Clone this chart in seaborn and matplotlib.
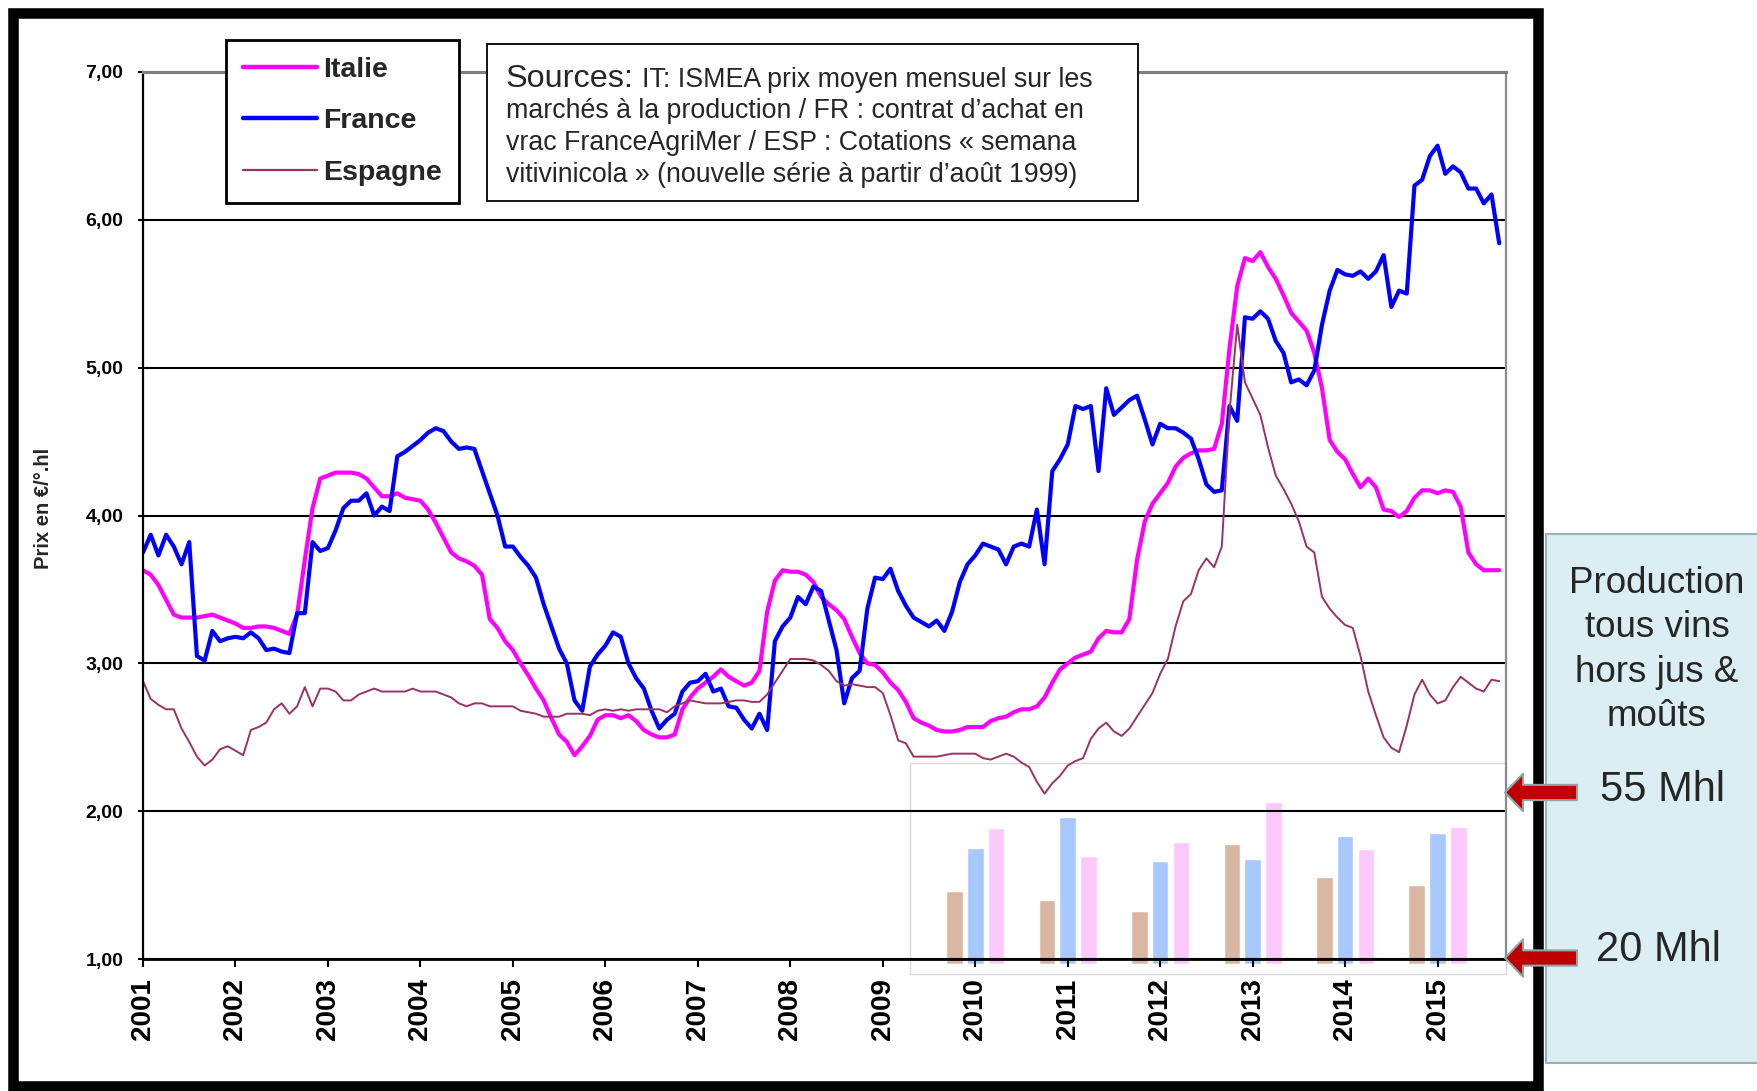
import numpy as np
import pandas as pd
import seaborn as sns
import matplotlib.pyplot as plt
from matplotlib.lines import Line2D
from matplotlib.patches import Rectangle, FancyArrowPatch

# prix mensuels en euros par degre hecto, janvier 2001 -> septembre 2015
italie = [3.63, 3.60, 3.53, 3.43, 3.33, 3.31, 3.31, 3.31, 3.32, 3.33, 3.31, 3.29,
          3.27, 3.24, 3.24, 3.25, 3.25, 3.24, 3.22, 3.20, 3.33, 3.70, 4.05, 4.25,
          4.27, 4.29, 4.29, 4.29, 4.28, 4.25, 4.19, 4.13, 4.13, 4.15, 4.12, 4.11,
          4.10, 4.04, 3.95, 3.85, 3.75, 3.71, 3.69, 3.66, 3.60, 3.30, 3.24, 3.15,
          3.09, 3.00, 2.92, 2.83, 2.75, 2.63, 2.52, 2.47, 2.38, 2.44, 2.51, 2.62,
          2.65, 2.65, 2.63, 2.65, 2.61, 2.55, 2.52, 2.50, 2.50, 2.52, 2.69, 2.77,
          2.83, 2.87, 2.91, 2.96, 2.91, 2.88, 2.85, 2.87, 2.95, 3.35, 3.56, 3.63,
          3.62, 3.62, 3.60, 3.55, 3.45, 3.40, 3.36, 3.30, 3.18, 3.07, 3.00, 2.99,
          2.94, 2.87, 2.82, 2.74, 2.63, 2.60, 2.58, 2.55, 2.54, 2.54, 2.55, 2.57,
          2.57, 2.57, 2.61, 2.63, 2.64, 2.67, 2.69, 2.69, 2.71, 2.77, 2.87, 2.96,
          3.00, 3.04, 3.06, 3.08, 3.17, 3.22, 3.21, 3.21, 3.30, 3.70, 3.96, 4.08,
          4.15, 4.22, 4.33, 4.39, 4.42, 4.44, 4.44, 4.45, 4.62, 5.13, 5.55, 5.74,
          5.72, 5.78, 5.68, 5.60, 5.49, 5.37, 5.31, 5.25, 5.10, 4.86, 4.51, 4.43,
          4.38, 4.28, 4.19, 4.25, 4.19, 4.04, 4.03, 3.99, 4.03, 4.12, 4.17, 4.17,
          4.15, 4.17, 4.16, 4.06, 3.75, 3.67, 3.63, 3.63, 3.63]

france = [3.75, 3.87, 3.73, 3.87, 3.79, 3.67, 3.82, 3.05, 3.02, 3.22, 3.15, 3.17,
          3.18, 3.17, 3.21, 3.17, 3.09, 3.10, 3.08, 3.07, 3.34, 3.34, 3.82, 3.76,
          3.78, 3.90, 4.05, 4.10, 4.10, 4.15, 4.00, 4.06, 4.03, 4.40, 4.43, 4.47,
          4.51, 4.56, 4.59, 4.57, 4.50, 4.45, 4.46, 4.45, 4.30, 4.15, 4.00, 3.79,
          3.79, 3.72, 3.66, 3.58, 3.40, 3.25, 3.10, 3.00, 2.75, 2.68, 2.98, 3.06,
          3.12, 3.21, 3.18, 3.00, 2.90, 2.83, 2.68, 2.56, 2.62, 2.66, 2.81, 2.87,
          2.88, 2.93, 2.81, 2.83, 2.71, 2.70, 2.62, 2.56, 2.66, 2.55, 3.15, 3.25,
          3.31, 3.45, 3.40, 3.52, 3.49, 3.29, 3.09, 2.73, 2.90, 2.95, 3.37, 3.58,
          3.57, 3.64, 3.49, 3.39, 3.31, 3.28, 3.25, 3.29, 3.22, 3.35, 3.55, 3.67,
          3.73, 3.81, 3.79, 3.77, 3.67, 3.79, 3.81, 3.79, 4.04, 3.67, 4.30, 4.38,
          4.48, 4.74, 4.72, 4.74, 4.30, 4.86, 4.68, 4.73, 4.78, 4.81, 4.65, 4.48,
          4.62, 4.59, 4.59, 4.56, 4.52, 4.38, 4.21, 4.16, 4.17, 4.74, 4.64, 5.34,
          5.33, 5.38, 5.33, 5.18, 5.10, 4.90, 4.92, 4.88, 4.98, 5.29, 5.52, 5.66,
          5.63, 5.62, 5.65, 5.60, 5.65, 5.76, 5.41, 5.52, 5.50, 6.23, 6.27, 6.43,
          6.50, 6.31, 6.36, 6.32, 6.21, 6.21, 6.11, 6.17, 5.84]

espagne = [2.88, 2.76, 2.72, 2.69, 2.69, 2.56, 2.47, 2.37, 2.31, 2.35, 2.42, 2.44,
           2.41, 2.38, 2.55, 2.57, 2.60, 2.69, 2.73, 2.66, 2.71, 2.84, 2.71, 2.83,
           2.83, 2.81, 2.75, 2.75, 2.79, 2.81, 2.83, 2.81, 2.81, 2.81, 2.81, 2.83,
           2.81, 2.81, 2.81, 2.79, 2.77, 2.73, 2.71, 2.73, 2.73, 2.71, 2.71, 2.71,
           2.71, 2.68, 2.67, 2.66, 2.64, 2.64, 2.64, 2.66, 2.66, 2.66, 2.65, 2.68,
           2.69, 2.68, 2.69, 2.68, 2.69, 2.69, 2.69, 2.69, 2.67, 2.71, 2.73, 2.75,
           2.74, 2.73, 2.73, 2.73, 2.74, 2.75, 2.75, 2.74, 2.74, 2.79, 2.87, 2.95,
           3.03, 3.03, 3.03, 3.02, 2.99, 2.95, 2.88, 2.85, 2.86, 2.85, 2.84, 2.84,
           2.80, 2.65, 2.48, 2.46, 2.37, 2.37, 2.37, 2.37, 2.38, 2.39, 2.39, 2.39,
           2.39, 2.36, 2.35, 2.37, 2.39, 2.37, 2.33, 2.30, 2.20, 2.12, 2.19, 2.24,
           2.31, 2.34, 2.36, 2.49, 2.56, 2.60, 2.54, 2.51, 2.56, 2.64, 2.72, 2.80,
           2.93, 3.03, 3.25, 3.42, 3.47, 3.63, 3.71, 3.65, 3.79, 4.70, 5.29, 4.90,
           4.79, 4.68, 4.46, 4.27, 4.18, 4.08, 3.96, 3.79, 3.75, 3.45, 3.37, 3.31,
           3.26, 3.24, 3.05, 2.81, 2.65, 2.50, 2.43, 2.40, 2.58, 2.79, 2.89, 2.79,
           2.73, 2.75, 2.84, 2.91, 2.87, 2.83, 2.81, 2.89, 2.88]

# production annuelle (Mhl) pour l'encart
annees_prod = [2010, 2011, 2012, 2013, 2014, 2015]
prod_espagne = [34.4, 32.4, 30.2, 44.3, 37.2, 35.6]
prod_france = [43.4, 49.8, 40.6, 41.1, 45.9, 46.5]
prod_italie = [47.6, 41.8, 44.6, 53.1, 43.2, 47.9]

annees = list(range(2001, 2016))
y_ticks = [1, 2, 3, 4, 5, 6, 7]

mois = pd.date_range("2001-01-01", periods=len(france), freq="MS")
t = mois.year + (mois.month - 1) / 12

W, H = 1758, 1091


def fx(p):
    return p / W


def fy(p):
    return 1 - p / H


sns.set_theme(style="white")
plt.rcParams["font.family"] = ["Liberation Sans", "DejaVu Sans"]

fig = plt.figure(figsize=(W / 100, H / 100), dpi=100)
ax = fig.add_axes([fx(143), fy(959.3), fx(1506) - fx(143), (959.3 - 71.7) / H])
ax2 = ax.twinx()

# encart production : barres sur un axe jumeau (20 Mhl -> 1,00 ; 55 Mhl -> 2,13)
df_prod = pd.DataFrame({
    "annee": annees_prod * 3,
    "mhl": prod_espagne + prod_france + prod_italie,
    "pays": ["Espagne"] * 6 + ["France"] * 6 + ["Italie"] * 6,
})
sns.barplot(data=df_prod, x="annee", y="mhl", hue="pays",
            hue_order=["Espagne", "France", "Italie"],
            palette=["#dab7a2", "#a8c9fd", "#fdc8fc"], saturation=1,
            native_scale=True, width=0.675, gap=0.2, errorbar=None,
            legend=False, edgecolor="white", linewidth=1, ax=ax2)
for p in ax2.patches:
    h = p.get_height()
    p.set_y(19.1)
    p.set_height(h - 19.1)
    p.set_clip_on(False)
ax2.set_ylim(20, 20 + 6 * 35 / 1.126)
ax2.set_xlabel("")
ax2.set_ylabel("")
ax2.yaxis.set_visible(False)
for s in ax2.spines.values():
    s.set_visible(False)

ax.set_zorder(ax2.get_zorder() + 1)
ax.patch.set_visible(False)

# courbes de prix
sns.lineplot(x=t, y=italie, color="#ff00ff", linewidth=3.0, ax=ax)
sns.lineplot(x=t, y=france, color="#0000ff", linewidth=3.0, ax=ax)
sns.lineplot(x=t, y=espagne, color="#993366", linewidth=1.4, ax=ax)

ax.add_patch(Rectangle((2009.29, 0.90), 2015.74 - 2009.29, 2.33 - 0.90,
                       fill=False, edgecolor="#d9d9d9", linewidth=1,
                       clip_on=False, zorder=0.5))

ax.set_xlim(2001, 2015.74)
ax.set_ylim(1, 7)
ax.set_xticks(annees)
ax.set_xticklabels([str(a) for a in annees], rotation=90,
                   fontsize=20, fontweight="bold")
ax.set_yticks(y_ticks)
ax.set_yticklabels([f"{v:.2f}".replace(".", ",") for v in y_ticks],
                   fontsize=14, fontweight="bold")
ax.tick_params(axis="x", direction="out", length=5.8, width=1.5, pad=8, colors="black")
ax.tick_params(axis="y", direction="out", length=3.6, width=1.5, pad=10.5, colors="black")
ax.tick_params(left=True, bottom=True)
ax.yaxis.grid(True, color="black", linewidth=1.5)
ax.xaxis.grid(False)
ax.set_axisbelow(True)
ax.set_xlabel("")
ax.set_ylabel("Prix en €/°.hl", fontsize=14.5, fontweight="bold")
ax.yaxis.set_label_coords(-0.066, 0.508)

ax.spines["left"].set_color("black")
ax.spines["left"].set_linewidth(1.6)
ax.spines["bottom"].set_color("black")
ax.spines["bottom"].set_linewidth(2.0)
ax.spines["top"].set_color("#808080")
ax.spines["top"].set_linewidth(2.2)
ax.spines["right"].set_color("#8c8c8c")
ax.spines["right"].set_linewidth(1.6)

# legende
handles = [Line2D([], [], color="#ff00ff", lw=3.2),
           Line2D([], [], color="#0000ff", lw=3.2),
           Line2D([], [], color="#993366", lw=1.6)]
leg = fig.legend(handles, ["Italie", "France", "Espagne"], loc="upper left",
                 bbox_to_anchor=(fx(225.7), fy(39.5)), frameon=True, fancybox=False,
                 edgecolor="black", framealpha=1, borderaxespad=0, borderpad=0.6,
                 handlelength=2.6, handletextpad=0.22, labelspacing=0.9,
                 prop={"weight": "bold", "size": 20.5})
leg.get_frame().set_linewidth(2)

# encadre des sources
fig.add_artist(Rectangle((fx(487), fy(201)), fx(1138) - fx(487), (201 - 44.3) / H,
                         transform=fig.transFigure, facecolor="white",
                         edgecolor="black", linewidth=1.3, zorder=3))
t1 = fig.text(fx(506), fy(87), "Sources:", fontsize=23.3, va="baseline", zorder=4)
fig.canvas.draw()
bb = t1.get_window_extent(renderer=fig.canvas.get_renderer())
fig.text((bb.x1 + 8) / W, fy(87), "IT: ISMEA prix moyen mensuel sur les",
         fontsize=19.3, va="baseline", zorder=4)
lignes = ["marchés à la production / FR : contrat d’achat en",
          "vrac FranceAgriMer / ESP : Cotations « semana",
          "vitivinicola » (nouvelle série à partir d’août 1999)"]
for i, txt in enumerate(lignes):
    fig.text(fx(506), fy(118.5 + 32 * i), txt, fontsize=19.3, va="baseline", zorder=4)

# cadre noir
fig.add_artist(Rectangle((fx(13.5), fy(1086)), fx(1538) - fx(13.5), (1086 - 12.5) / H,
                         transform=fig.transFigure, fill=False,
                         edgecolor="black", linewidth=7.6, zorder=3))

# panneau de droite
fig.add_artist(Rectangle((fx(1546), fy(1062.6)), fx(1790) - fx(1546), (1062.6 - 533.5) / H,
                         transform=fig.transFigure, facecolor="#daeef3",
                         edgecolor="#93b3b8", linewidth=1.5, zorder=2))
fig.text(fx(1657), fy(650), "Production\ntous vins\nhors jus &\nmoûts",
         fontsize=26.5, ha="center", va="center", linespacing=1.34, zorder=4)
fig.text(fx(1663), fy(790), "55 Mhl", fontsize=30, ha="center", va="center", zorder=4)
fig.text(fx(1658), fy(950), "20 Mhl", fontsize=30, ha="center", va="center", zorder=4)

for yy in [792.5, 958]:
    fig.add_artist(FancyArrowPatch((fx(1577), fy(yy)), (fx(1505), fy(yy)),
                                   transform=fig.transFigure,
                                   arrowstyle="simple,head_length=1.3,head_width=2.7,tail_width=1.1",
                                   mutation_scale=10, shrinkA=0, shrinkB=0,
                                   facecolor="#c00000", edgecolor="#8aa6aa",
                                   linewidth=1.5, zorder=5))

fig.savefig("out.png", dpi=100)
